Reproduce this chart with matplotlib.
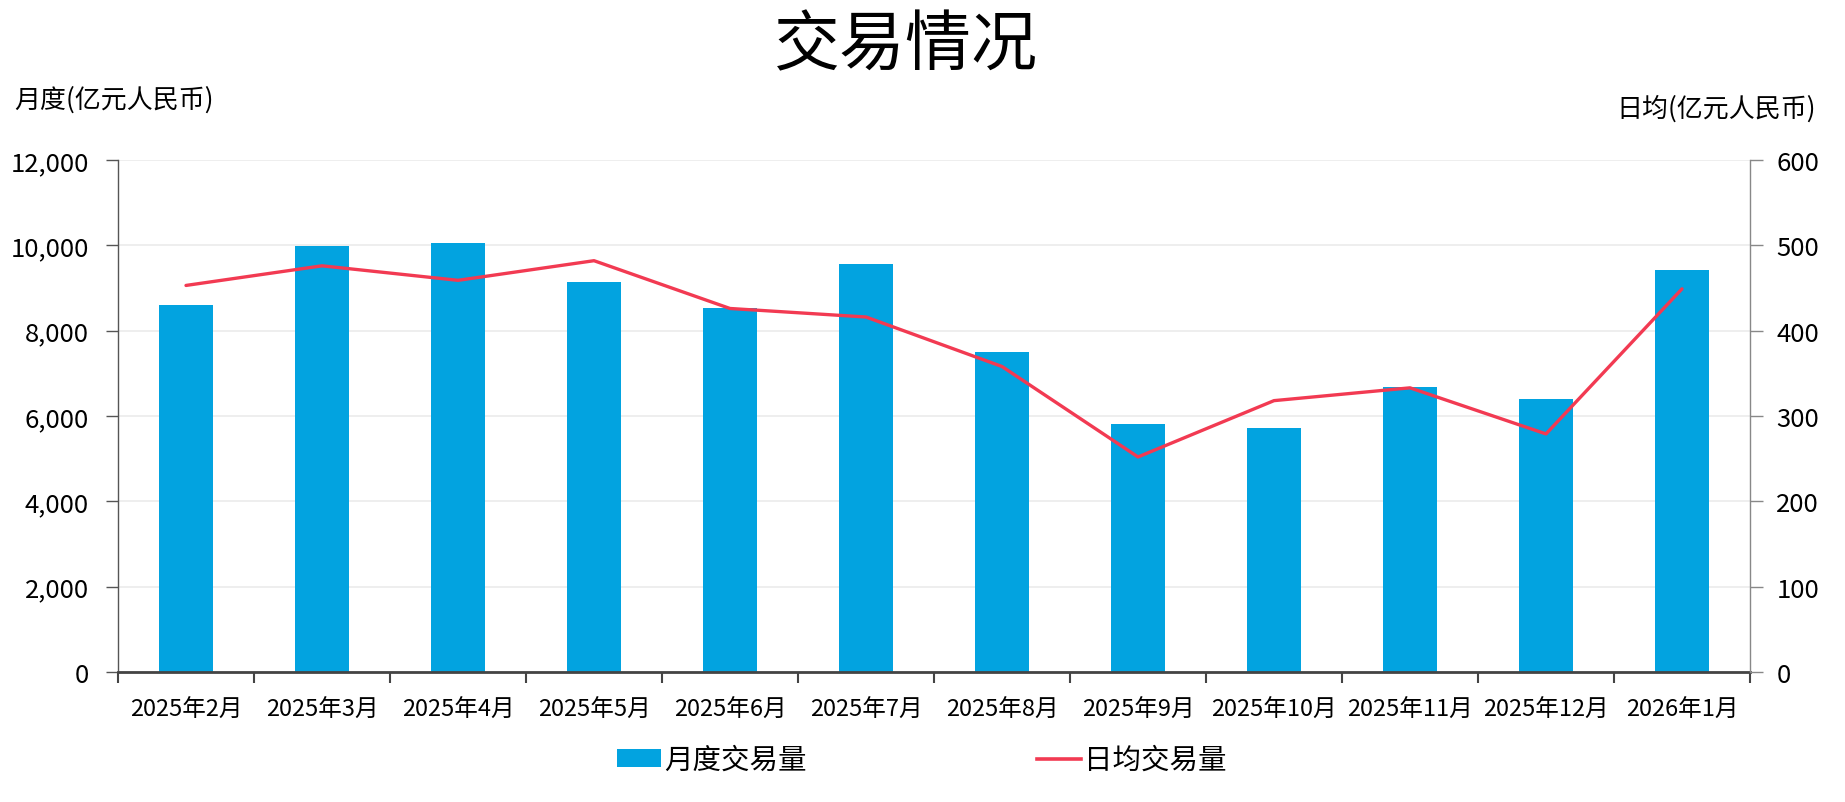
import matplotlib
matplotlib.use("Agg")
import matplotlib.pyplot as plt
from matplotlib.ticker import FuncFormatter, FixedLocator
from matplotlib.patches import Patch
from matplotlib.lines import Line2D

plt.rcParams['font.family'] = ['Noto Sans CJK SC', 'DejaVu Sans']

categories = ["2025年2月", "2025年3月", "2025年4月", "2025年5月", "2025年6月", "2025年7月",
              "2025年8月", "2025年9月", "2025年10月", "2025年11月", "2025年12月", "2026年1月"]
monthly = [8600, 9990, 10060, 9150, 8520, 9570, 7500, 5805, 5710, 6680, 6400, 9430]
daily = [453, 476, 459, 482, 426, 416, 358, 252, 318, 333, 279, 449]

title = "交易情况"
left_label = "月度(亿元人民币)"
right_label = "日均(亿元人民币)"
bar_name = "月度交易量"
line_name = "日均交易量"

bar_color = "#02A3E0"
line_color = "#F23A52"

W, H = 1845, 803
fig = plt.figure(figsize=(W / 100, H / 100), dpi=100)
ax = fig.add_axes([118 / W, 1 - 673 / H, (1750 - 118) / W, (673 - 161) / H])
ax2 = ax.twinx()

x = list(range(len(categories)))
ax.bar(x, monthly, width=0.40, color=bar_color, zorder=2)
ax2.plot(x, daily, color=line_color, lw=2.4, zorder=3, solid_capstyle='round')

ax.set_xlim(-0.5, len(categories) - 0.5)
ax.set_ylim(0, 12000)
ax2.set_ylim(0, 600)
ax.set_yticks(range(0, 12001, 2000))
ax2.set_yticks(range(0, 601, 100))
ax.yaxis.set_major_formatter(FuncFormatter(lambda v, p: f"{int(v):,}"))

ax.grid(axis='y', color='#EEEEEE', lw=1.4, zorder=0)
ax.set_axisbelow(True)

# x ticks at category boundaries, labels centred under bars
ax.xaxis.set_major_locator(FixedLocator([i - 0.5 for i in range(len(categories) + 1)]))
ax.set_xticklabels([])
ax.set_xticks(x, minor=True)
ax.set_xticklabels(categories, minor=True, fontsize=17)
ax.tick_params(axis='x', which='major', length=8, width=1.5, color='#444444')
ax.tick_params(axis='x', which='minor', length=0, pad=19)

ax.tick_params(axis='y', length=9, width=1, color='#555555', labelsize=18.5, pad=12)
ax2.tick_params(axis='y', length=9, width=1, color='#888888', labelsize=18.5, pad=10)

for s in ['top']:
    ax.spines[s].set_visible(False)
    ax2.spines[s].set_visible(False)
ax2.spines['left'].set_visible(False)
ax2.spines['bottom'].set_visible(False)
ax.spines['right'].set_visible(False)
ax.spines['left'].set_color('#555555')
ax.spines['left'].set_linewidth(1)
ax.spines['bottom'].set_color('#444444')
ax.spines['bottom'].set_linewidth(2)
ax2.spines['right'].set_color('#888888')
ax2.spines['right'].set_linewidth(1)

fig.text(0.491, 1 - 47 / H, title, fontsize=47.5, ha='center', va='center')
fig.text(14 / W, 1 - 100 / H, left_label, fontsize=18.7, ha='left', va='center')
fig.text(1816 / W, 1 - 109 / H, right_label, fontsize=18.7, ha='right', va='center')

handles = [Patch(facecolor=bar_color, edgecolor='none'),
           Line2D([0], [0], color=line_color, lw=2.6)]
fig.legend(handles, [bar_name, line_name], loc='center', bbox_to_anchor=(0.4995, 1 - 761 / H),
           ncol=2, frameon=False, fontsize=20.5, handlelength=1.55, handleheight=0.55,
           handletextpad=0.1, columnspacing=8.1)

fig.savefig("out.png", dpi=100)
